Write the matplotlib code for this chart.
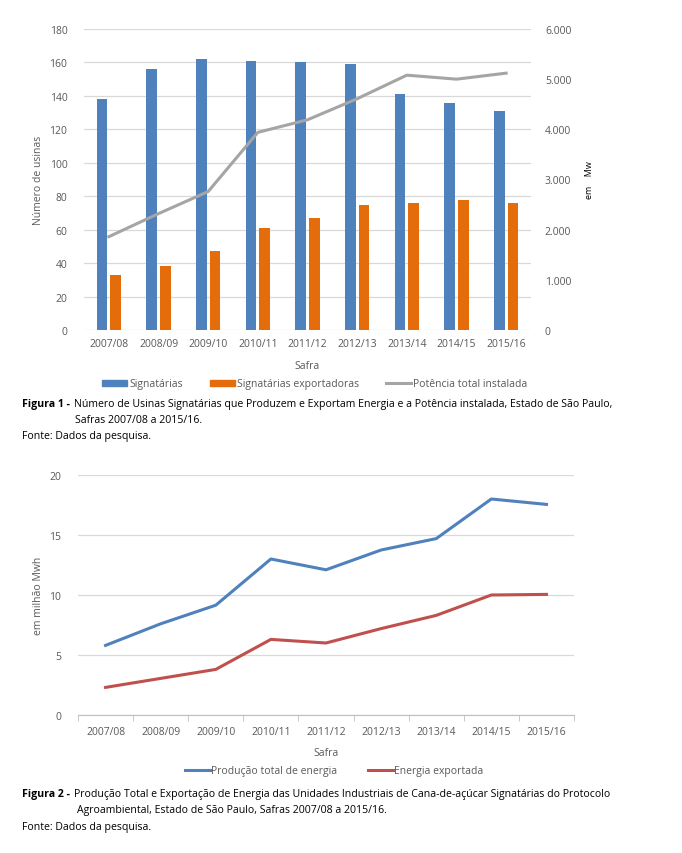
import numpy as np
import matplotlib
matplotlib.use('Agg')
import matplotlib.pyplot as plt
from matplotlib.lines import Line2D
from matplotlib.patches import Patch

plt.rcParams['font.family'] = ['Open Sans', 'DejaVu Sans']

# data
safras = ['2007/08', '2008/09', '2009/10', '2010/11', '2011/12',
          '2012/13', '2013/14', '2014/15', '2015/16']
signatarias = [138, 156, 162, 161, 160, 159, 141, 136, 131]
exportadoras = [33, 38, 47, 61, 67, 75, 76, 78, 76]
potencia = [1860, 2320, 2760, 3940, 4190, 4610, 5080, 5000, 5120]
producao = [5.8, 7.6, 9.15, 13.0, 12.1, 13.75, 14.7, 18.0, 17.55]
exportada = [2.3, 3.05, 3.8, 6.3, 6.0, 7.2, 8.3, 10.0, 10.05]

W, H = 682, 854
txt = '#595959'
grid = '#D9D9D9'
cap = 7.6

def box(l, t, r, b):
    return [l / W, 1 - b / H, (r - l) / W, (b - t) / H]

def fy(py):
    return 1 - py / H

fig = plt.figure(figsize=(6.82, 8.54), dpi=100)
fig.patch.set_facecolor('white')

# ---- Figura 1
ax1 = fig.add_axes(box(84, 30, 531, 331))
x = np.arange(len(safras))
ax1.bar(x - 0.14, signatarias, width=0.215, color='#4F81BD', zorder=3)
ax1.bar(x + 0.14, exportadoras, width=0.215, color='#E46C0A', zorder=3)
ax1.set_xlim(-0.5, len(safras) - 0.5)
ax1.set_ylim(0, 180)
ax1.set_yticks(range(0, 181, 20))
ax1.set_xticks(x)
ax1.set_xticklabels(safras)
ax1.yaxis.grid(True, color=grid, lw=0.9, zorder=0)
for s in ax1.spines.values():
    s.set_visible(False)
ax1.tick_params(length=0, labelsize=7.5, colors=txt, pad=6)
ax1.tick_params(axis='y', pad=12)
ax1.set_ylabel('Número de usinas', fontsize=7.5, color=txt, labelpad=4)
ax1.set_xlabel('Safra', fontsize=7.5, color=txt, labelpad=8)

ax1b = ax1.twinx()
ax1b.plot(x, potencia, color='#A5A5A5', lw=2.2, zorder=4)
ax1b.set_ylim(0, 6000)
ax1b.set_yticks(range(0, 6001, 1000))
ax1b.set_yticklabels(['0', '1.000', '2.000', '3.000', '4.000', '5.000', '6.000'])
for s in ax1b.spines.values():
    s.set_visible(False)
ax1b.tick_params(length=0, labelsize=7.5, colors=txt, pad=10)
fig.text(589 / W, fy(180), 'em    Mw', rotation=90, fontsize=6.5,
         ha='center', va='center', color='black')

h1 = [Patch(color='#4F81BD'), Patch(color='#E46C0A'),
      Line2D([], [], color='#A5A5A5', lw=2.2)]
fig.legend(h1, ['Signatárias', 'Signatárias exportadoras', 'Potência total instalada'],
           loc='center', bbox_to_anchor=(315 / W, fy(385)), ncol=3, frameon=False,
           fontsize=7.5, labelcolor=txt, handlelength=2.4, handleheight=0.55,
           handletextpad=0.2, columnspacing=2.6)

fig.text(22 / W, fy(405), 'Figura 1 -', fontsize=cap, weight='bold', va='center')
fig.text(74 / W, fy(405), 'Número de Usinas Signatárias que Produzem e Exportam Energia e a '
         'Potência instalada, Estado de São Paulo,', fontsize=cap, va='center')
fig.text(75 / W, fy(421), 'Safras 2007/08 a 2015/16.', fontsize=cap, va='center')
fig.text(22 / W, fy(437), 'Fonte: Dados da pesquisa.', fontsize=cap, va='center')

# ---- Figura 2
ax2 = fig.add_axes(box(78, 476, 574, 716))
x2 = np.arange(len(safras))
ax2.plot(x2, producao, color='#4F81BD', lw=2.2, zorder=3)
ax2.plot(x2, exportada, color='#C0504D', lw=2.2, zorder=3)
ax2.set_xlim(-0.5, len(safras) - 0.5)
ax2.set_ylim(0, 20)
ax2.set_yticks(range(0, 21, 5))
ax2.set_xticks(x2)
ax2.set_xticklabels(safras)
ax2.set_xticks(np.arange(-0.5, len(safras), 1), minor=True)
ax2.yaxis.grid(True, color=grid, lw=0.9, zorder=0)
for s in ['top', 'right', 'left']:
    ax2.spines[s].set_visible(False)
ax2.spines['bottom'].set_color('#BFBFBF')
ax2.tick_params(axis='x', which='major', length=0, labelsize=7.5, colors=txt, pad=8)
ax2.tick_params(axis='x', which='minor', length=4, color='#BFBFBF', direction='out')
ax2.tick_params(axis='y', length=0, labelsize=7.5, colors=txt, pad=12)
ax2.set_ylabel('em milhão Mwh', fontsize=7.5, color=txt, labelpad=4)
ax2.set_xlabel('Safra', fontsize=7.5, color=txt, labelpad=7)

h2 = [Line2D([], [], color='#4F81BD', lw=2.2), Line2D([], [], color='#C0504D', lw=2.2)]
fig.legend(h2, ['Produção total de energia', 'Energia exportada'],
           loc='center', bbox_to_anchor=(334 / W, fy(772)), ncol=2, frameon=False,
           fontsize=7.5, labelcolor=txt, handlelength=2.4, handletextpad=0.1,
           columnspacing=3.0)

fig.text(22 / W, fy(795), 'Figura 2 -', fontsize=cap, weight='bold', va='center')
fig.text(74 / W, fy(795), 'Produção Total e Exportação de Energia das Unidades Industriais de '
         'Cana-de-açúcar Signatárias do Protocolo', fontsize=cap, va='center')
fig.text(77 / W, fy(811), 'Agroambiental, Estado de São Paulo, Safras 2007/08 a 2015/16.',
         fontsize=cap, va='center')
fig.text(22 / W, fy(828), 'Fonte: Dados da pesquisa.', fontsize=cap, va='center')

fig.savefig('out.png', dpi=100)
